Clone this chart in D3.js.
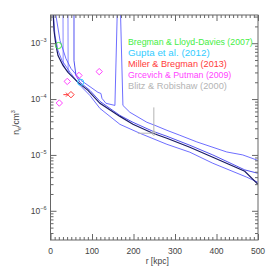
<!DOCTYPE html>
<html>
<head>
<meta charset="utf-8">
<script src="https://cdn.jsdelivr.net/npm/d3@7"></script>
<style>
  body { margin: 0; background: #fff; }
  svg text { font-family: "Liberation Sans", Arial, sans-serif; }
</style>
</head>
<body>
<div id="chart"></div>
<script>
var w = 274, h = 274;

// model profiles, [r kpc, n_e cm^-3]
var darkProfile = [[6,4e-3],[8.4,1.69e-3],[13.2,9.1e-4],[18.1,6.0e-4],[30.1,4.0e-4],[42.1,3.0e-4],
  [66.2,1.99e-4],[90.3,1.43e-4],[119.1,8.4e-5],[167.3,4.9e-5],[198.6,3.53e-5],[246.7,2.44e-5],
  [280.4,1.99e-5],[335.7,1.37e-5],[391.1,9.1e-6],[468.1,5.1e-6],[499.4,3.0e-6]];
var lowProfile = [[6,4e-3],[10.8,1.37e-3],[18.1,7.4e-4],[27.7,4.9e-4],[47.5,3.0e-4],[71.2,1.76e-4],
  [95.1,1.16e-4],[119.1,6.8e-5],[167.3,3.53e-5],[215.4,2.44e-5],[280.4,1.55e-5],[335.7,1.12e-5],
  [391.1,7.1e-6],[472.9,4.0e-6],[499.4,3.25e-6]];
var spikeProfile = [[10.8,4e-3],[22.9,1.12e-3],[37.3,5.3e-4],[49.3,3.53e-4],[73.4,2.16e-4],[97.5,1.62e-4],
  [114.3,1.32e-4],[121.5,1.26e-4],[124,1.03e-4],[133.6,8.4e-5],[155.2,7.7e-5],[161,4e-3],[168.5,4e-3],
  [174.5,7.7e-5],[191.3,5.8e-5],[232.3,3.84e-5],[251.5,3.39e-5],[280.4,2.76e-5],[311.7,2.25e-5],
  [352.6,1.71e-5],[424.8,1.13e-5],[463.3,1.0e-5],[499.4,8.0e-6]];
var midProfile = [[56.6,4e-3],[56.6,4.9e-4],[61.4,2.65e-4],[71,1.99e-4],[95.1,1.43e-4],[119.1,9.1e-5],
  [167.3,5.1e-5],[198.6,3.84e-5],[246.7,2.65e-5],[280.4,2.16e-5],[335.7,1.49e-5],[391.1,1.0e-5],
  [468.1,5.4e-6],[499.4,4.7e-6]];
var vertA = [[30.1,4e-3],[30.5,4.2e-4],[34,3.7e-4]];
var vertB = [[42.1,4e-3],[42.5,3.2e-4],[46,2.9e-4]];

// observations
var bregman = [[19.3,9.1e-4]];
var gupta = [[72.7,2.0e-4]];
var miller = [[49.3,1.2e-4]];
var millerArrowFrom = 31;
var grcevich = [[21.2,8.5e-5],[40.4,2.07e-4],[68.6,2.65e-4],[117.4,3.1e-4]];
var blitz = [[249,2.45e-5]];
var blitzTop = 7.1e-5, blitzLeft = 210.6;

var legendNames = ["Bregman & Lloyd-Davies (2007)", "Gupta et al. (2012)", "Miller & Bregman (2013)",
  "Grcevich & Putman (2009)", "Blitz & Robishaw (2000)"];
var legendColors = ["#44ee44", "#33ccff", "#ff3a3a", "#ff44ff", "#b4b4b4"];

var xMajor = [0,100,200,300,400,500];
var yMajor = [1e-3,1e-4,1e-5,1e-6];
var yExp = ["\u22123","\u22124","\u22125","\u22126"];

var pLeft = 50.5, pRight = 258, pTop = 15, pBottom = 240;
var axisColor = "#666";

var svg = d3.select("#chart").append("svg")
  .attr("width", w).attr("height", h);
svg.append("rect").attr("width", w).attr("height", h).attr("fill", "#fff");

var x = d3.scaleLinear().domain([0, 500]).range([pLeft, pRight]);
var y = d3.scaleLog().domain([3e-7, 3.2e-3]).range([pBottom, pTop]);

svg.append("clipPath").attr("id", "clip")
  .append("rect").attr("x", pLeft).attr("y", pTop)
  .attr("width", pRight - pLeft).attr("height", pBottom - pTop);

var plot = svg.append("g").attr("clip-path", "url(#clip)");
var line = d3.line().x(d => x(d[0])).y(d => y(d[1]));

function profile(data, color, width, op) {
  plot.append("path").datum(data)
    .attr("fill", "none").attr("stroke", color)
    .attr("stroke-width", width).attr("stroke-opacity", op)
    .attr("d", line);
}
profile(lowProfile, "#5555ff", 1, 0.85);
profile(spikeProfile, "#5555ff", 1, 0.85);
profile(midProfile, "#3333ee", 1, 0.85);
profile(vertA, "#5555ff", 1, 0.7);
profile(vertB, "#5555ff", 1, 0.7);
profile(darkProfile, "#1a1a66", 1.2, 1);

// blitz: grey bars and diamond
plot.append("line").attr("x1", x(blitz[0][0])).attr("x2", x(blitz[0][0]))
  .attr("y1", y(blitz[0][1])).attr("y2", y(blitzTop)).attr("stroke", legendColors[4]);
plot.append("line").attr("x1", x(blitzLeft)).attr("x2", x(blitz[0][0]))
  .attr("y1", y(blitz[0][1])).attr("y2", y(blitz[0][1])).attr("stroke", legendColors[4]);

var diamond = d3.symbol().type(d3.symbolDiamond2).size(26);
var circle = d3.symbol().type(d3.symbolCircle).size(30);

function marks(data, sym, color) {
  plot.selectAll(null).data(data).enter().append("path")
    .attr("transform", d => "translate(" + x(d[0]) + "," + y(d[1]) + ")")
    .attr("d", sym).attr("fill", "none").attr("stroke", color).attr("stroke-width", 1);
}
marks(blitz, d3.symbol().type(d3.symbolDiamond2).size(14), legendColors[4]);
marks(grcevich, diamond, legendColors[3]);
marks(bregman, circle, legendColors[0]);
marks(gupta, circle, legendColors[1]);
marks(miller, diamond, legendColors[2]);

// miller arrow
var ay = y(miller[0][1]);
plot.append("line").attr("x1", x(millerArrowFrom)).attr("x2", x(miller[0][0]) - 3)
  .attr("y1", ay).attr("y2", ay).attr("stroke", legendColors[2]);
plot.append("path")
  .attr("d", "M" + (x(miller[0][0]) - 5) + "," + (ay - 2) + "L" + (x(miller[0][0]) - 3) + "," + ay +
    "L" + (x(miller[0][0]) - 5) + "," + (ay + 2))
  .attr("fill", "none").attr("stroke", legendColors[2]);

// axes, IDL style: ticks inward on all sides
var xMinor = d3.range(0, 501, 10).filter(v => v % 100 != 0);
var yMinor = [];
[-7,-6,-5,-4,-3].forEach(function(e) {
  for (var k = 2; k < 10; k++) {
    var v = k * Math.pow(10, e);
    if (v > 3e-7 && v < 3.2e-3) yMinor.push(v);
  }
});

function drawAxis(gen, scale, vals, size, tr) {
  var g = svg.append("g").attr("transform", tr)
    .call(gen(scale).tickValues(vals).tickSize(size).tickFormat(""));
  g.select(".domain").remove();
  g.selectAll("line").attr("stroke", axisColor);
  return g;
}
drawAxis(d3.axisBottom, x, xMajor, -6, "translate(0," + pBottom + ")");
drawAxis(d3.axisBottom, x, xMinor, -3, "translate(0," + pBottom + ")");
drawAxis(d3.axisTop, x, xMajor, -6, "translate(0," + pTop + ")");
drawAxis(d3.axisTop, x, xMinor, -3, "translate(0," + pTop + ")");
drawAxis(d3.axisLeft, y, yMajor, -6, "translate(" + pLeft + ",0)");
drawAxis(d3.axisLeft, y, yMinor, -3, "translate(" + pLeft + ",0)");
drawAxis(d3.axisRight, y, yMajor, -6, "translate(" + pRight + ",0)");
drawAxis(d3.axisRight, y, yMinor, -3, "translate(" + pRight + ",0)");

svg.append("rect").attr("x", pLeft).attr("y", pTop)
  .attr("width", pRight - pLeft).attr("height", pBottom - pTop)
  .attr("fill", "none").attr("stroke", axisColor).attr("stroke-width", 1);

// tick labels
svg.selectAll(null).data(xMajor).enter().append("text")
  .attr("x", d => x(d)).attr("y", pBottom + 14)
  .attr("text-anchor", "middle").attr("font-size", 8.5).attr("fill", "#444")
  .text(d => d);

var yl = svg.selectAll(null).data(yMajor).enter().append("text")
  .attr("x", pLeft - 4).attr("y", d => y(d) + 3)
  .attr("text-anchor", "end").attr("font-size", 8.5).attr("fill", "#444");
yl.append("tspan").text("10");
yl.append("tspan").attr("dy", -4).attr("font-size", 5.5).text((d, i) => yExp[i]);

// axis titles
svg.append("text").attr("x", (pLeft + pRight) / 2 + 3).attr("y", pBottom + 24)
  .attr("text-anchor", "middle").attr("font-size", 8.5).attr("fill", "#444")
  .text("r [kpc]");
var yt = svg.append("text").attr("transform", "translate(19," + ((pTop + pBottom) / 2 - 5) + ") rotate(-90)")
  .attr("text-anchor", "middle").attr("font-size", 8.5).attr("fill", "#444");
yt.append("tspan").text("n");
yt.append("tspan").attr("font-size", 5.5).attr("dy", 2).text("e");
yt.append("tspan").attr("dy", -2).text("/cm");
yt.append("tspan").attr("font-size", 5.5).attr("dy", -4).text("3");

// legend
svg.selectAll(null).data(legendNames).enter().append("text")
  .attr("x", 128).attr("y", (d, i) => 44.5 + i * 11)
  .attr("font-size", 9).attr("fill", (d, i) => legendColors[i])
  .attr("textLength", d => d.length * 4.3).attr("lengthAdjust", "spacingAndGlyphs")
  .text(d => d);
</script>
</body>
</html>
